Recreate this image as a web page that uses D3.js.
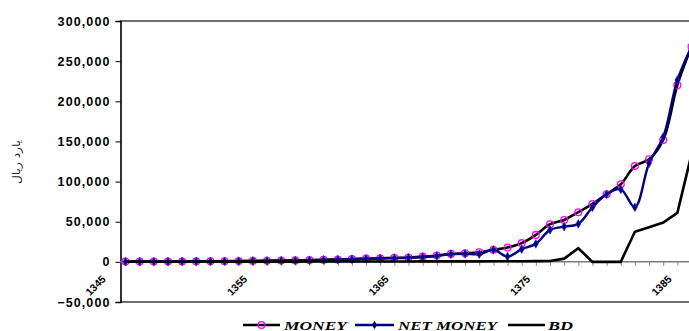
<!DOCTYPE html>
<html><head><meta charset="utf-8">
<script src="https://cdn.jsdelivr.net/npm/d3@7"></script>
<style>body{margin:0;background:#fff}svg{display:block}</style>
</head><body>
<svg id="c" width="689" height="331"></svg>
<script>
const years = [1345,1346,1347,1348,1349,1350,1351,1352,1353,1354,1355,1356,1357,1358,1359,1360,1361,1362,1363,1364,1365,1366,1367,1368,1369,1370,1371,1372,1373,1374,1375,1376,1377,1378,1379,1380,1381,1382,1383,1384,1385];
const money = [300,350,400,450,500,600,700,800,1000,1200,1400,1600,1800,2200,2700,3000,3500,4000,4500,5000,5500,6500,8000,10000,10800,12000,15000,17800,23300,33600,46900,52200,61800,72100,84200,96600,119400,127700,151700,220100,268000];
const netMoney = [280,330,380,420,470,560,650,750,950,1100,1300,1500,1700,2000,2500,2800,3300,3700,4200,4600,5100,6000,7300,9500,10000,9500,15000,6600,15800,22400,39800,43900,47300,68000,84200,90400,68000,122800,155500,226400,268000];
const bd = [100,100,150,150,200,200,250,250,300,300,300,350,350,400,400,450,450,500,500,500,500,550,550,600,600,650,700,700,800,900,1000,4000,17000,0,0,0,37500,43000,49000,61000,134000];
const yTicks = [-50000,0,50000,100000,150000,200000,250000,300000];
const xLabelYears = [1345,1355,1365,1375,1385];
const seriesNames = ["MONEY","NET MONEY","BD"];
const yTitle = "یارد ریال";

const svg = d3.select("#c");
const defs = svg.append("defs");
const x = d3.scaleLinear().domain([1345,1385]).range([125.5,691.5]);
const y = d3.scaleLinear().domain([-50000,300000]).range([302,21]);
const fmt = d3.format(",");

svg.append("line").attr("x1",120).attr("x2",700).attr("y1",y(300000)).attr("y2",y(300000)).attr("stroke","#6e6e6e").attr("stroke-width",2);
svg.append("line").attr("x1",120).attr("x2",700).attr("y1",y(-50000)).attr("y2",y(-50000)).attr("stroke","#6e6e6e").attr("stroke-width",2);

const yAxis = d3.axisLeft(y).tickValues(yTicks).tickSize(5).tickFormat(fmt);
const gy = svg.append("g").attr("transform","translate(120.5,0)").call(yAxis);
gy.select(".domain").attr("stroke","#000").attr("stroke-width",1.6);
gy.selectAll(".tick line").attr("stroke","#000");
gy.selectAll(".tick text").attr("font-family","Liberation Sans, Arial, sans-serif").attr("font-weight","bold").attr("font-size","12.5px").attr("letter-spacing","1.1px").attr("x",-10).attr("fill","#000");

const xAxis = d3.axisBottom(x).tickValues(years).tickSize(4).tickFormat("");
const gx = svg.append("g").attr("transform",`translate(0,${y(0)})`).call(xAxis);
gx.select(".domain").attr("stroke","#7a7a7a").attr("stroke-width",1.5).attr("d",`M120,0H700`);
gx.selectAll(".tick line").attr("stroke","#8a8a8a");

// rotated category labels
svg.append("g").selectAll("text").data(xLabelYears).join("text")
  .attr("transform",d=>`translate(${x(d)-19},${y(0)+18}) rotate(-45)`)
  .attr("text-anchor","end")
  .attr("font-family","Liberation Sans, Arial, sans-serif").attr("font-weight","bold").attr("font-size","10.5px")
  .text(d=>d);

svg.append("text").attr("transform","translate(16,162) rotate(-90)").attr("text-anchor","middle").attr("dy","0.35em")
  .attr("textLength",44).attr("lengthAdjust","spacingAndGlyphs")
  .attr("font-family","DejaVu Sans, sans-serif").attr("font-size","11px").attr("fill","#222").text(yTitle);

defs.append("clipPath").attr("id","pc").append("rect").attr("x",100).attr("y",0).attr("width",589).attr("height",331);
const plot = svg.append("g").attr("clip-path","url(#pc)");
const smooth = d3.line().x((d,i)=>x(years[i])).y(d=>y(d)).curve(d3.curveCatmullRom.alpha(0.5));
const straight = d3.line().x((d,i)=>x(years[i])).y(d=>y(d));

plot.append("path").datum(money).attr("d",smooth).attr("fill","none").attr("stroke","#000").attr("stroke-width",2.6);
plot.append("g").selectAll("circle").data(money).join("circle")
  .attr("cx",(d,i)=>x(years[i])).attr("cy",d=>y(d)).attr("r",3.4).attr("fill","none").attr("stroke","#ff00ff").attr("stroke-width",1.3);
plot.append("path").datum(netMoney).attr("d",smooth).attr("fill","none").attr("stroke","#000080").attr("stroke-width",2.4);
const diamond = d3.symbol().type(d3.symbolDiamond).size(22);
plot.append("g").selectAll("path").data(netMoney).join("path")
  .attr("transform",(d,i)=>`translate(${x(years[i])},${y(d)})`).attr("d",diamond).attr("fill","#000080").attr("stroke","#3030c0").attr("stroke-width",0.6);
plot.append("path").datum(bd).attr("d",straight).attr("fill","none").attr("stroke","#000").attr("stroke-width",2.6);

const ly = 325;
const leg = svg.append("g");
const legItems = [
  {name:seriesNames[0], x1:243, x2:280, tx:284, tw:63, color:"#000", marker:"circle"},
  {name:seriesNames[1], x1:355, x2:394, tx:398, tw:99, color:"#000080", marker:"diamond"},
  {name:seriesNames[2], x1:508, x2:545, tx:548, tw:25, color:"#000", marker:null}
];
legItems.forEach(it=>{
  leg.append("line").attr("x1",it.x1).attr("x2",it.x2).attr("y1",ly).attr("y2",ly).attr("stroke",it.color).attr("stroke-width",2.6);
  const mx=(it.x1+it.x2)/2;
  if(it.marker==="circle") leg.append("circle").attr("cx",mx).attr("cy",ly).attr("r",3.4).attr("fill","none").attr("stroke","#ff00ff").attr("stroke-width",1.3);
  if(it.marker==="diamond") leg.append("path").attr("transform",`translate(${mx},${ly})`).attr("d",diamond).attr("fill","#000080");
  leg.append("text").attr("x",it.tx).attr("y",ly+4.5).attr("textLength",it.tw).attr("lengthAdjust","spacingAndGlyphs")
    .attr("font-family","Liberation Serif, Times New Roman, serif").attr("font-weight","bold").attr("font-style","italic").attr("font-size","13px").text(it.name);
});
</script>
</body></html>
